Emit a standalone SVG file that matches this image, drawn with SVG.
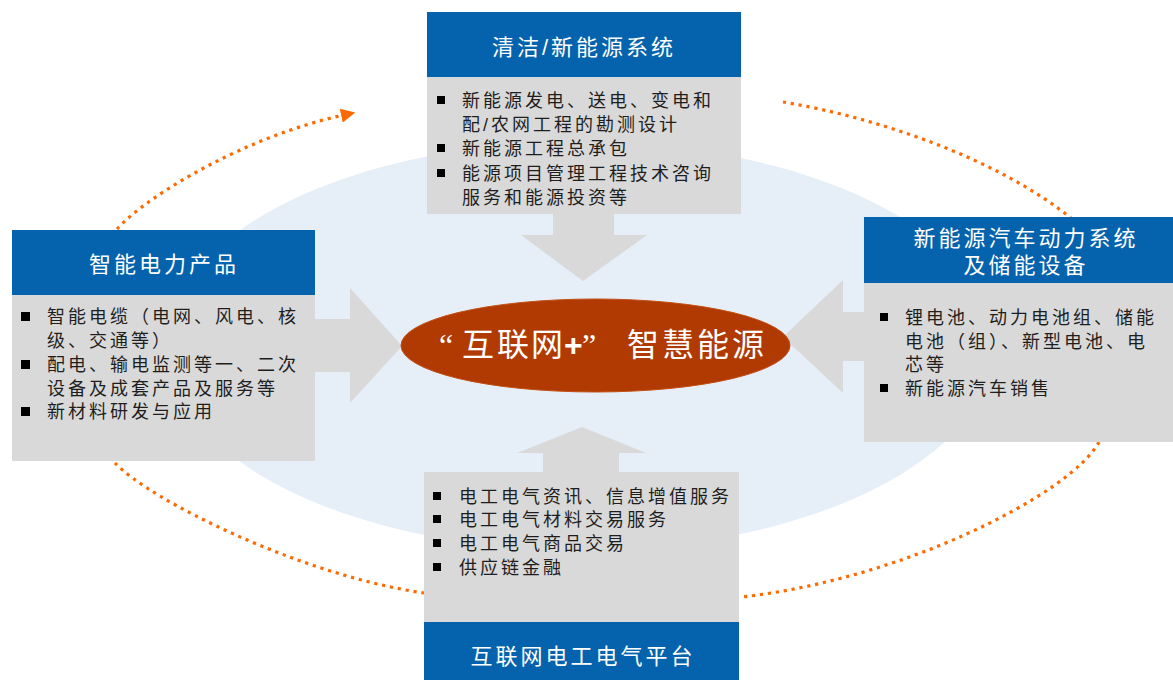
<svg xmlns="http://www.w3.org/2000/svg" width="1173" height="680" viewBox="0 0 1173 680">
<defs>
<style>
.hdr{fill:#0563AD}
.body{fill:#D9D9D9}
.ttl{font-family:"Liberation Sans","Noto Sans CJK SC",sans-serif;font-size:22px;fill:#ffffff;letter-spacing:3px;text-anchor:middle}
.txt{font-family:"Liberation Sans","Noto Sans CJK SC",sans-serif;font-size:18px;fill:#1e1e1e;letter-spacing:3px}
.bul{fill:#000000}
.blk{fill:#D9D9D9}
.dot{fill:none;stroke:#FF6A00;stroke-width:3.2;stroke-dasharray:3.2 4.8}
.ctr{font-family:"Liberation Sans","Noto Sans CJK SC",sans-serif;font-size:32px;fill:#ffffff}
.q{font-family:"Liberation Serif",serif;font-size:32px;fill:#ffffff}
</style>
<marker id="ah" viewBox="0 0 10 10" refX="2" refY="5" markerWidth="4.5" markerHeight="4.5" markerUnits="strokeWidth" orient="auto">
<path d="M0,0 L10,5 L0,10 Z" fill="#FF6A00"/>
</marker>
</defs>
<rect width="1173" height="680" fill="#ffffff"/>
<ellipse id="backdrop" cx="580" cy="346" rx="413" ry="204" fill="#E6EEF8"/>
<g id="connectors">
<path class="dot" d="M117,229 C150,193 250,135 344,115" marker-end="url(#ah)"/>
<path class="dot" d="M783,102 C880,118 1000,160 1072,219"/>
<path class="dot" d="M1099,442 C1070,495 900,580 741,597"/>
<path class="dot" d="M115,463 C150,500 300,575 424,593"/>
<polygon class="blk" points="553,205 614,205 614,235 647,235 583,281 521,235 553,235"/>
<polygon class="blk" points="305,319 350,319 350,288 402,346 350,403 350,372 305,372"/>
<polygon class="blk" points="870,312 843,312 843,280 783,337 843,393 843,361 870,361"/>
<polygon class="blk" points="543,480 543,453 517,453 582,427 646,453 619,453 619,480"/>
</g>
<g id="node-top">
<rect class="hdr" x="427" y="12" width="314" height="65"/>
<rect class="body" x="427" y="77" width="314" height="137"/>
<text class="ttl" x="584" y="55">清洁/新能源系统</text>
<rect class="bul" x="437" y="96" width="8" height="8"/>
<rect class="bul" x="437" y="144" width="8" height="8"/>
<rect class="bul" x="437" y="169" width="8" height="8"/>
<text class="txt" x="462" y="107">新能源发电、送电、变电和</text>
<text class="txt" x="462" y="131">配/农网工程的勘测设计</text>
<text class="txt" x="462" y="155">新能源工程总承包</text>
<text class="txt" x="462" y="180">能源项目管理工程技术咨询</text>
<text class="txt" x="462" y="204">服务和能源投资等</text>
</g>
<g id="node-left">
<rect class="hdr" x="12" y="230" width="303" height="65"/>
<rect class="body" x="12" y="295" width="303" height="166"/>
<text class="ttl" x="164" y="272">智能电力产品</text>
<rect class="bul" x="21" y="312" width="9" height="9"/>
<rect class="bul" x="21" y="360" width="9" height="9"/>
<rect class="bul" x="21" y="407" width="9" height="9"/>
<text class="txt" x="47" y="323">智能电缆（电网、风电、核</text>
<text class="txt" x="47" y="347">级、交通等）</text>
<text class="txt" x="47" y="371">配电、输电监测等一、二次</text>
<text class="txt" x="47" y="395">设备及成套产品及服务等</text>
<text class="txt" x="47" y="418">新材料研发与应用</text>
</g>
<g id="node-right">
<rect class="hdr" x="864" y="217" width="309" height="66"/>
<rect class="body" x="864" y="283" width="309" height="159"/>
<text class="ttl" x="1026" y="246">新能源汽车动力系统</text>
<text class="ttl" x="1026" y="273">及储能设备</text>
<rect class="bul" x="880" y="313" width="8" height="8"/>
<rect class="bul" x="880" y="384" width="8" height="8"/>
<text class="txt" x="905" y="324">锂电池、动力电池组、储能</text>
<text class="txt" x="905" y="348">电池（组）、新型电池、电</text>
<text class="txt" x="905" y="371">芯等</text>
<text class="txt" x="905" y="395">新能源汽车销售</text>
</g>
<g id="node-bottom">
<rect class="body" x="424" y="472" width="315" height="150"/>
<rect class="hdr" x="424" y="622" width="315" height="58"/>
<text class="ttl" x="583" y="664">互联网电工电气平台</text>
<rect class="bul" x="433" y="492" width="8" height="8"/>
<rect class="bul" x="433" y="515" width="8" height="8"/>
<rect class="bul" x="433" y="539" width="8" height="8"/>
<rect class="bul" x="433" y="563" width="8" height="8"/>
<text class="txt" x="459" y="503">电工电气资讯、信息增值服务</text>
<text class="txt" x="459" y="526">电工电气材料交易服务</text>
<text class="txt" x="459" y="550">电工电气商品交易</text>
<text class="txt" x="459" y="574">供应链金融</text>
</g>
<g id="node-center">
<ellipse cx="595.5" cy="345.5" rx="194.5" ry="46.5" fill="#B03A02" stroke="#C24E12" stroke-width="1"/>
<text class="ctr" y="358"><tspan class="q" x="439" y="356">“</tspan><tspan x="462 497 531">互联网</tspan><tspan x="564" font-weight="bold">+</tspan><tspan class="q" x="582" y="356">”</tspan><tspan x="627 662 697 732">智慧能源</tspan></text>
</g>
</svg>
